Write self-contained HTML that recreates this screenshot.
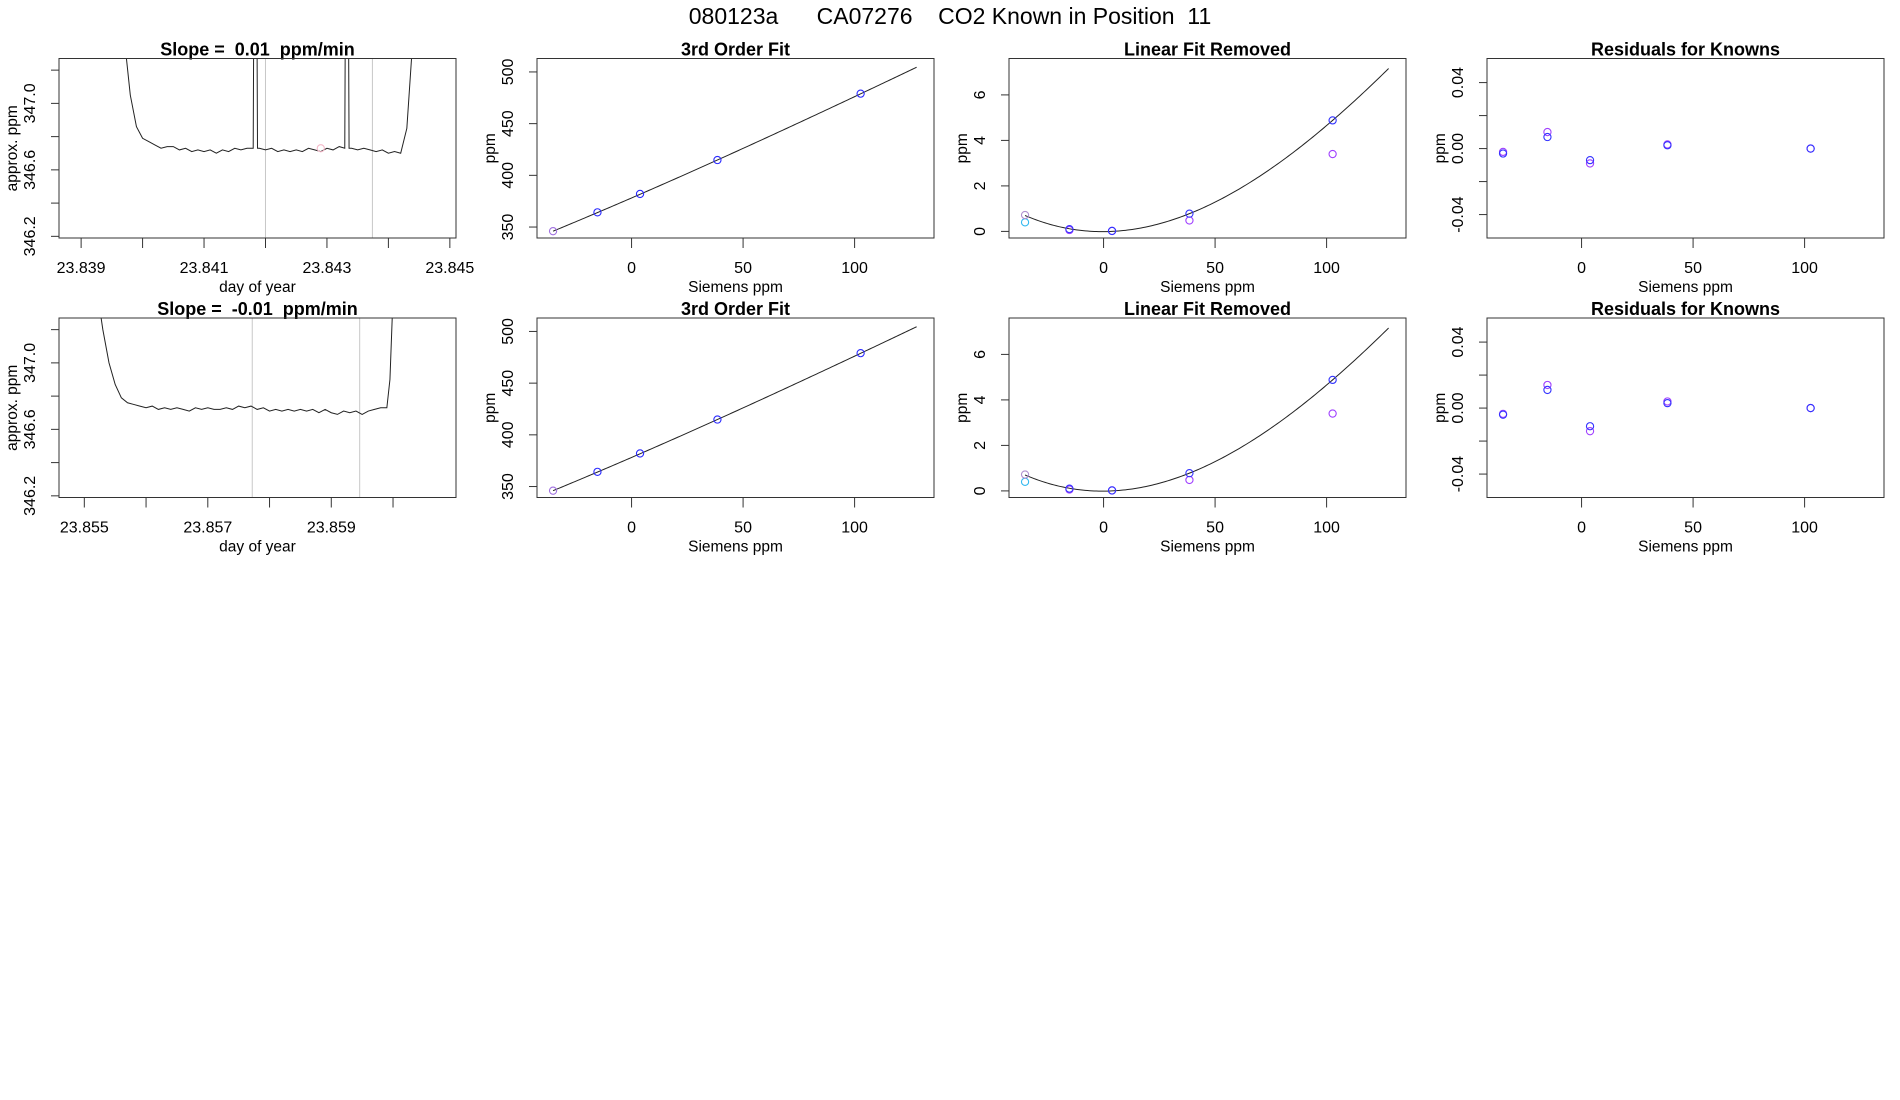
<!DOCTYPE html>
<html><head><meta charset="utf-8">
<style>
html,body{margin:0;padding:0;background:#fff;}
svg{display:block;font-family:"Liberation Sans",Arial,sans-serif;}
text{white-space:pre;}
</style></head>
<body>
<svg id="chart" width="1900" height="1100" viewBox="0 0 1900 1100" xmlns="http://www.w3.org/2000/svg">
<rect width="1900" height="1100" fill="#fff"/>
<text x="950" y="24" text-anchor="middle" font-size="23">080123a      CA07276    CO2 Known in Position  11</text>
</svg>
<script>
// ---------- DATA ----------
const series1 = [[23.8397,347.40],[23.8398,347.05],[23.8399,346.86],[23.8400,346.79],[23.8401,346.77],[23.8402,346.75],[23.8403,346.73],[23.8404,346.74],[23.8405,346.74],[23.8406,346.72],[23.8407,346.73],[23.8408,346.71],[23.8409,346.72],[23.8410,346.71],[23.8411,346.72],[23.8412,346.70],[23.8413,346.72],[23.8414,346.71],[23.8415,346.73],[23.8416,346.72],[23.8417,346.73],[23.84180,346.73],[23.84181,347.60],[23.84186,347.60],[23.84187,346.73],[23.8419,346.73],[23.8420,346.72],[23.8421,346.73],[23.8422,346.71],[23.8423,346.72],[23.8424,346.71],[23.8425,346.72],[23.8426,346.71],[23.8427,346.73],[23.8428,346.72],[23.8429,346.71],[23.8430,346.73],[23.8431,346.72],[23.8432,346.74],[23.84329,346.73],[23.84330,347.60],[23.84335,347.60],[23.84336,346.73],[23.8434,346.73],[23.8435,346.72],[23.8436,346.73],[23.8437,346.72],[23.8438,346.71],[23.8439,346.72],[23.8440,346.70],[23.8441,346.71],[23.8442,346.70],[23.8443,346.85],[23.8444,347.40]];
const series2 = [[23.8552,347.45],[23.8553,347.20],[23.8554,347.00],[23.8555,346.87],[23.8556,346.79],[23.8557,346.76],[23.8558,346.75],[23.8559,346.74],[23.8560,346.73],[23.8561,346.74],[23.8562,346.72],[23.8563,346.73],[23.8564,346.72],[23.8565,346.73],[23.8566,346.72],[23.8567,346.71],[23.8568,346.73],[23.8569,346.72],[23.8570,346.73],[23.8571,346.72],[23.8572,346.72],[23.8573,346.73],[23.8574,346.72],[23.8575,346.74],[23.8576,346.73],[23.8577,346.74],[23.8578,346.72],[23.8579,346.73],[23.8580,346.71],[23.8581,346.72],[23.8582,346.71],[23.8583,346.72],[23.8584,346.71],[23.8585,346.72],[23.8586,346.71],[23.8587,346.72],[23.8588,346.70],[23.8589,346.72],[23.8590,346.70],[23.8591,346.69],[23.8592,346.71],[23.8593,346.70],[23.8594,346.71],[23.8595,346.69],[23.8596,346.71],[23.8597,346.72],[23.8598,346.73],[23.8599,346.73],[23.85995,346.90],[23.8600,347.40]];
const vlines1 = [23.84200, 23.84374];
const vlines2 = [23.85772, 23.85946];
const marker1 = [23.8429, 346.73];
const marker2 = [23.8429, 346.73];
const slopeTitles = ["Slope =  0.01  ppm/min", "Slope =  -0.01  ppm/min"];
const xTicks1 = [23.839,23.840,23.841,23.842,23.843,23.844,23.845];
const xLabels1 = ["23.839","","23.841","","23.843","","23.845"];
const xTicks2 = [23.855,23.856,23.857,23.858,23.859,23.860];
const xLabels2 = ["23.855","","23.857","","23.859",""];
const yTicksTime = [346.2,346.4,346.6,346.8,347.0,347.2];
const yLabelsTime = ["346.2","","346.6","","347.0",""];

const siemensX = [-35.2, -15.3, 3.8, 38.5, 102.7];
const knownY = [346.0, 364.2, 382.0, 414.8, 479.0];
const knownColors = ["#a070e0","#2a2aff","#2a2aff","#2a2aff","#2a2aff"];
const linIntercept = 345.3;
const linSlope = 0.933;
const fitKnotsX = [-35.2, 3.8, 38.5, 102.7];
const fitKnotsY = [0.70, 0.0, 0.78, 4.88];
const removedBlue = [0.70, 0.10, 0.02, 0.78, 4.88];
const removedPurple = [0.72, 0.06, 0.02, 0.48, 3.40];
const removedCyan = [0.40];
const resid1Blue = [-0.003, 0.007, -0.007, 0.002, 0.000];
const resid1Purple = [-0.002, 0.010, -0.009, 0.0025, 0.000];
const resid2Blue = [-0.004, 0.011, -0.011, 0.003, 0.000];
const resid2Purple = [-0.0035, 0.014, -0.014, 0.004, 0.000];
const xTicksS = [0,50,100];
const yTicksFit = [350,400,450,500];
const yTicksRem = [0,2,4,6];
const yTicksRes = [-0.04,-0.02,0,0.02,0.04];
const yLabelsRes = ["-0.04","","0.00","","0.04"];

// ---------- DRAWING ----------
const NS = "http://www.w3.org/2000/svg";
const svg = document.getElementById("chart");
let clipId = 0;
function mk(tag, attrs, parent) {
  const e = document.createElementNS(NS, tag);
  for (const k in attrs) e.setAttribute(k, attrs[k]);
  (parent || svg).appendChild(e);
  return e;
}
function lin(d0, d1, r0, r1) { return v => r0 + (v - d0) / (d1 - d0) * (r1 - r0); }
function lagrange(xs, ys, x) {
  let s = 0;
  for (let i = 0; i < xs.length; i++) {
    let t = ys[i];
    for (let j = 0; j < xs.length; j++) if (j !== i) t *= (x - xs[j]) / (xs[i] - xs[j]);
    s += t;
  }
  return s;
}
function fitRemoved(x) { return lagrange(fitKnotsX, fitKnotsY, x); }
function fitFull(x) { return linIntercept + linSlope * (x + 35.2) + fitRemoved(x); }

function panel(o) {
  const L = o.left, R = L + 397, T = o.top, B = T + 179.5;
  const g = mk("g", {});
  
  
  const sx = lin(o.xd[0], o.xd[1], L, R);
  const sy = lin(o.yd[0], o.yd[1], B, T);
  const t = mk("text", {x: (L + R) / 2, y: T - 3, "text-anchor": "middle", "font-size": 18, "font-weight": "bold"}, g);
  
  
  t.textContent = o.title;
  o.xt.forEach((v, i) => {
    const x = sx(v);
    const tk = mk("line", {x1: x, x2: x, y1: B, y2: B + 10, stroke: "#333", "stroke-width": 1}, g);
    
    
    const lab = o.xl ? o.xl[i] : String(v);
    if (lab) {
      const tl = mk("text", {x: x, y: B + 35, "text-anchor": "middle", "font-size": 16}, g);
      
      
      tl.textContent = lab;
    }
  });
  const ax = mk("line", {x1: sx(o.xt[0]), x2: sx(o.xt[o.xt.length - 1]), y1: B, y2: B, stroke: "#333"}, g);
  
  
  const xt = mk("text", {x: (L + R) / 2, y: B + 54, "text-anchor": "middle", "font-size": 15.5}, g);
  
  
  xt.textContent = o.xTitle;
  o.yt.forEach((v, i) => {
    const y = sy(v);
    const tk = mk("line", {x1: L - 8, x2: L, y1: y, y2: y, stroke: "#333"}, g);
    
    
    const lab = o.yl ? o.yl[i] : String(v);
    if (lab) {
      const tl = mk("text", {x: 0, y: 0, "text-anchor": "middle", "font-size": 16, transform: `translate(${L - 24},${y}) rotate(-90)`}, g);
      
      
      tl.textContent = lab;
    }
  });
  const ay = mk("line", {x1: L, x2: L, y1: sy(o.yt[0]), y2: sy(o.yt[o.yt.length - 1]), stroke: "#333"}, g);
  
  
  const yt = mk("text", {x: 0, y: 0, "text-anchor": "middle", "font-size": 15.5, transform: `translate(${L - 42},${(T + B) / 2}) rotate(-90)`}, g);
  
  
  yt.textContent = o.yTitle;
  const id = "clip" + (clipId++);
  const cp = mk("clipPath", {id: id}, g);
  mk("rect", {x: L, y: T, width: R - L, height: B - T}, cp);
  const inner = mk("g", {"clip-path": `url(#${id})`}, g);
  o.draw(inner, sx, sy);
  const box = mk("rect", {x: L, y: T, width: R - L, height: B - T, fill: "none", stroke: "#333", "stroke-width": 1}, g);
  
  
}

function circle(parent, x, y, color, name) {
  const c = mk("circle", {cx: x, cy: y, r: 3.6, fill: "none", stroke: color, "stroke-width": 1.1}, parent);
  
  
}

const rows = [
  {top: 58.5, series: series1, vl: vlines1, mk: marker1, xd: [23.83864, 23.84510], xt: xTicks1, xl: xLabels1, title: slopeTitles[0], r1: resid1Blue, r2: resid1Purple},
  {top: 318, series: series2, vl: vlines2, mk: marker2, xd: [23.85459, 23.86102], xt: xTicks2, xl: xLabels2, title: slopeTitles[1], r1: resid2Blue, r2: resid2Purple}
];
const sxd = [-42.4, 135.6];

rows.forEach((row, ri) => {
  panel({
    name: "time-series-panel-" + (ri + 1), left: 59, top: row.top, xd: row.xd, yd: [346.19, 347.27],
    xt: row.xt, xl: row.xl, yt: yTicksTime, yl: yLabelsTime, title: row.title,
    xTitle: "day of year", yTitle: "approx. ppm",
    draw: (g, sx, sy) => {
      row.vl.forEach(v => {
        const l = mk("line", {x1: sx(v), x2: sx(v), y1: 0, y2: 1100, stroke: "#c8c8c8", "stroke-width": 1}, g);
        
        
      });
      const p = mk("polyline", {points: row.series.map(d => sx(d[0]).toFixed(2) + "," + sy(d[1]).toFixed(2)).join(" "), fill: "none", stroke: "#222", "stroke-width": 1}, g);
      
      
      circle(g, sx(row.mk[0]), sy(row.mk[1]), "#f4b8c8", "mean-marker");
    }
  });
  panel({
    name: "third-order-fit-panel-" + (ri + 1), left: 537, top: row.top, xd: sxd, yd: [339.4, 513],
    xt: xTicksS, yt: yTicksFit, title: "3rd Order Fit", xTitle: "Siemens ppm", yTitle: "ppm",
    draw: (g, sx, sy) => {
      const pts = [];
      for (let x = -35.2; x <= 128.4; x += 1) pts.push(sx(x).toFixed(2) + "," + sy(fitFull(x)).toFixed(2));
      const p = mk("polyline", {points: pts.join(" "), fill: "none", stroke: "#222", "stroke-width": 1}, g);
      
      
      siemensX.forEach((x, i) => circle(g, sx(x), sy(knownY[i]), knownColors[i], "known-point"));
    }
  });
  panel({
    name: "linear-fit-removed-panel-" + (ri + 1), left: 1009, top: row.top, xd: sxd, yd: [-0.29, 7.6],
    xt: xTicksS, yt: yTicksRem, title: "Linear Fit Removed", xTitle: "Siemens ppm", yTitle: "ppm",
    draw: (g, sx, sy) => {
      const pts = [];
      for (let x = -35.2; x <= 128.4; x += 1) pts.push(sx(x).toFixed(2) + "," + sy(fitRemoved(x)).toFixed(2));
      const p = mk("polyline", {points: pts.join(" "), fill: "none", stroke: "#222", "stroke-width": 1}, g);
      
      
      removedCyan.forEach((v, i) => circle(g, sx(siemensX[i]), sy(v), "#30b8f0", "cyan-point"));
      removedPurple.forEach((v, i) => circle(g, sx(siemensX[i]), sy(v), i === 0 ? "#b090d0" : "#a040ff", "purple-point"));
      removedBlue.forEach((v, i) => { if (i > 0) circle(g, sx(siemensX[i]), sy(v), "#3333ff", "blue-point"); });
    }
  });
  panel({
    name: "residuals-panel-" + (ri + 1), left: 1487, top: row.top, xd: sxd, yd: [-0.0542, 0.0546],
    xt: xTicksS, yt: yTicksRes, yl: yLabelsRes, title: "Residuals for Knowns", xTitle: "Siemens ppm", yTitle: "ppm",
    draw: (g, sx, sy) => {
      row.r2.forEach((v, i) => circle(g, sx(siemensX[i]), sy(v), "#a040ff", "residual-purple"));
      row.r1.forEach((v, i) => circle(g, sx(siemensX[i]), sy(v), "#3333ff", "residual-blue"));
    }
  });
});
</script>
</body></html>
